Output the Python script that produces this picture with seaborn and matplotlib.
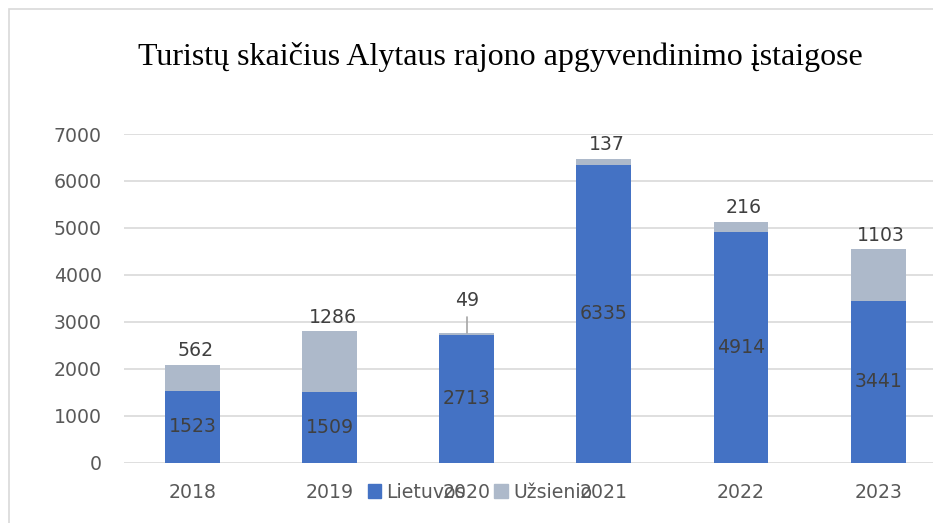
import pandas as pd
import seaborn as sns
import matplotlib.pyplot as plt
from matplotlib.patches import Patch, Rectangle

# duomenys
metai = ['2018', '2019', '2020', '2021', '2022', '2023']
lietuvos = [1523, 1509, 2713, 6335, 4914, 3441]
uzsienio = [562, 1286, 49, 137, 216, 1103]

df = pd.DataFrame({'metai': metai, 'Lietuvos': lietuvos, 'Užsienio': uzsienio})
df['viso'] = df['Lietuvos'] + df['Užsienio']

blue = '#4472C4'
grey = '#ADB9CA'
fs = 13.6

sns.set_style('white')
plt.rcParams['font.family'] = ['DejaVu Sans']

fig = plt.figure(figsize=(9.33, 5.23), dpi=100)
ax = fig.add_axes([124 / 933, 1 - 462.5 / 523, 1 - 124 / 933, (462.5 - 134) / 523])

sns.barplot(data=df, x='metai', y='viso', color=grey, width=0.4, saturation=1,
            linewidth=0, ax=ax, zorder=3)
sns.barplot(data=df, x='metai', y='Lietuvos', color=blue, width=0.4, saturation=1,
            linewidth=0, ax=ax, zorder=3)

ax.set_ylim(0, 7000)
ax.set_xlim(-0.5, 5.4)
ax.set_yticks(range(0, 7001, 1000))
ax.yaxis.grid(True, color='#D9D9D9', linewidth=1.2, zorder=0)
ax.set_axisbelow(True)
for s in ax.spines.values():
    s.set_visible(False)
ax.set_xlabel('')
ax.set_ylabel('')
ax.tick_params(axis='both', length=0, labelsize=fs, labelcolor='#595959')
ax.tick_params(axis='y', pad=16)
ax.tick_params(axis='x', pad=15)

# reiksmiu etiketes
for i in range(len(metai)):
    ax.text(i, lietuvos[i] / 2, str(lietuvos[i]), ha='center', va='center',
            fontsize=fs, color='#404040', zorder=5)
    top = lietuvos[i] + uzsienio[i]
    if metai[i] == '2020':
        ax.plot([i, i], [top, top + 330], color='#A6A6A6', linewidth=1.2, zorder=4)
        ax.text(i, top + 680, str(uzsienio[i]), ha='center', va='center',
                fontsize=fs, color='#404040')
    else:
        ax.annotate(str(uzsienio[i]), (i, top), xytext=(2, 10), textcoords='offset points',
                    ha='center', va='center', fontsize=fs, color='#404040')

fig.text(500 / 933, 1 - 57 / 523, 'Turistų skaičius Alytaus rajono apgyvendinimo įstaigose',
         ha='center', va='center', fontsize=23, family='Liberation Serif', color='black')

handles = [Patch(color=blue, label='Lietuvos'), Patch(color=grey, label='Užsienio')]
fig.legend(handles=handles, loc='center', bbox_to_anchor=(480 / 933, 1 - 492 / 523), ncol=2,
           frameon=False, fontsize=fs, labelcolor='#595959', handlelength=0.7, handleheight=0.7,
           handletextpad=0.3, columnspacing=1.5)

fig.patches.append(Rectangle((9 / 933, -0.1), 2, 1 - 9 / 523 + 0.1, transform=fig.transFigure,
                             fill=False, edgecolor='#D9D9D9', linewidth=1.2))

fig.savefig('out.png', dpi=100)
